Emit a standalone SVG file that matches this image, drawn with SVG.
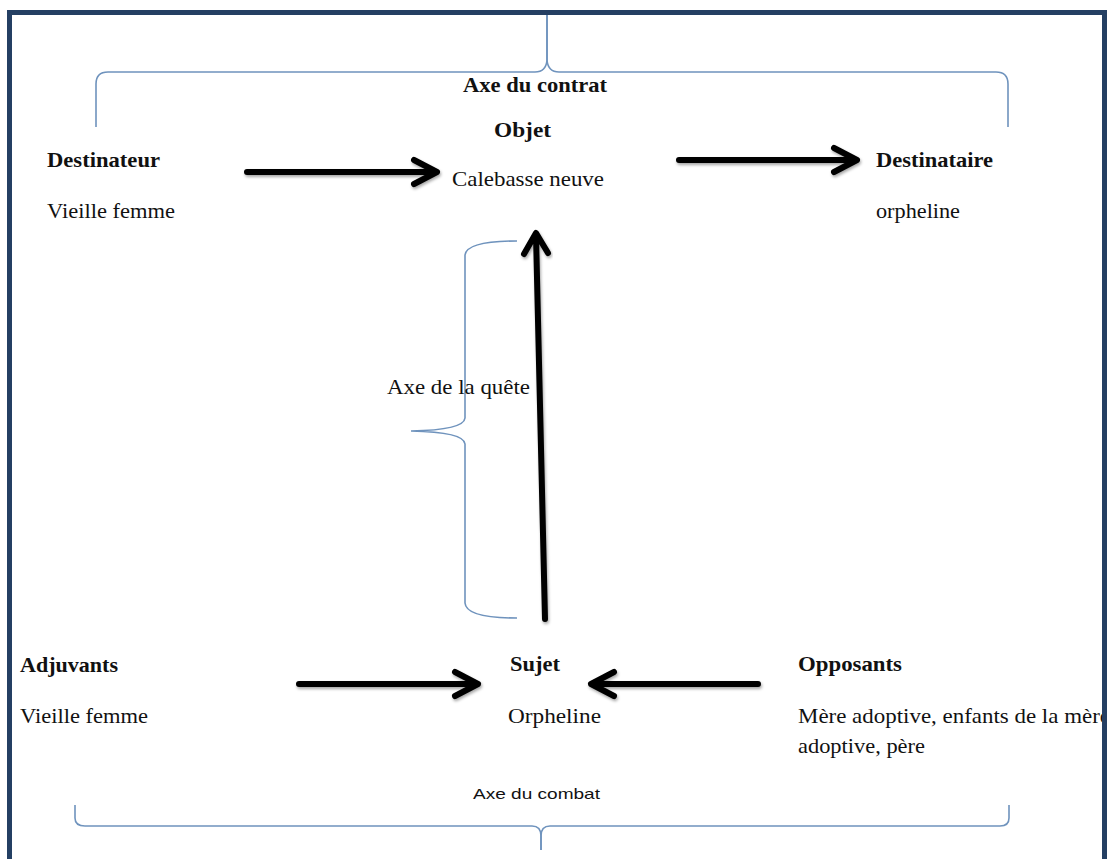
<svg xmlns="http://www.w3.org/2000/svg" width="1107" height="859" viewBox="0 0 1107 859">
<style>
.t{font-family:"Liberation Serif","Times New Roman",serif;font-size:21px;fill:#111}
.b{font-weight:bold}
.s{font-family:"Liberation Sans",Arial,sans-serif;font-size:15px;fill:#111}
.br{fill:none;stroke:#6f93bd;stroke-width:1.6}
.ar{fill:none;stroke:#000;stroke-width:6;stroke-linecap:round;stroke-linejoin:round;filter:url(#sh)}
</style>
<defs>
<filter id="sh" x="-20%" y="-50%" width="140%" height="200%">
<feDropShadow dx="1" dy="2" stdDeviation="1.5" flood-color="#000" flood-opacity="0.35"/>
</filter>
</defs>
<rect x="0" y="0" width="1107" height="859" fill="#fff"/>

<g id="braces">
<path class="br" d="M96,127 L96,84 Q96,72 108,72 L535,72 Q546,72 547,60 L547,15"/>
<path class="br" d="M547,15 L547,60 Q548,72 559,72 L996,72 Q1008,72 1008,84 L1008,127"/>
<path class="br" d="M75,805 L75,818 Q75,826 85,826 L532,826 Q541,826 541,836 L541,850"/>
<path class="br" d="M541,850 L541,836 Q541,826 550,826 L1000,826 Q1009,826 1009,818 L1009,805"/>
<path class="br" d="M517,241 Q467,241 465,255 L465,418 Q464,430 411,431 Q464,432 465,444 L465,603 Q466,618 517,618"/>
</g>

<g id="connectors">
<path class="ar" d="M247,172 L436,172 M414,160 L437,172 L414,184"/>
<path class="ar" d="M679,160 L856,160 M834,148 L857,160 L834,172"/>
<path class="ar" d="M545,619 L536,235 M524,254 L536,233 L548,253"/>
<path class="ar" d="M299,684 L477,684 M455,672 L478,684 L455,696"/>
<path class="ar" d="M758,684 L592,684 M614,672 L591,684 L614,696"/>
</g>

<g id="axe-contrat"><text class="t b" x="463" y="92" textLength="144" lengthAdjust="spacingAndGlyphs">Axe du contrat</text></g>
<g id="objet">
<text class="t b" x="494" y="137" textLength="57" lengthAdjust="spacingAndGlyphs">Objet</text>
<text class="t" x="452" y="186" textLength="152" lengthAdjust="spacingAndGlyphs">Calebasse neuve</text>
</g>
<g id="destinateur">
<text class="t b" x="47" y="167" textLength="113" lengthAdjust="spacingAndGlyphs">Destinateur</text>
<text class="t" x="47" y="218" textLength="128" lengthAdjust="spacingAndGlyphs">Vieille femme</text>
</g>
<g id="destinataire">
<text class="t b" x="876" y="167" textLength="117" lengthAdjust="spacingAndGlyphs">Destinataire</text>
<text class="t" x="876" y="218" textLength="84" lengthAdjust="spacingAndGlyphs">orpheline</text>
</g>
<g id="axe-quete"><text class="t" x="387" y="394" textLength="143" lengthAdjust="spacingAndGlyphs">Axe de la quête</text></g>
<g id="adjuvants">
<text class="t b" x="20" y="672" textLength="98" lengthAdjust="spacingAndGlyphs">Adjuvants</text>
<text class="t" x="20" y="723" textLength="128" lengthAdjust="spacingAndGlyphs">Vieille femme</text>
</g>
<g id="sujet">
<text class="t b" x="510" y="671" textLength="50" lengthAdjust="spacingAndGlyphs">Sujet</text>
<text class="t" x="508" y="723" textLength="93" lengthAdjust="spacingAndGlyphs">Orpheline</text>
</g>
<g id="opposants">
<text class="t b" x="798" y="671" textLength="104" lengthAdjust="spacingAndGlyphs">Opposants</text>
<text class="t" x="798" y="723" textLength="312" lengthAdjust="spacingAndGlyphs">Mère adoptive, enfants de la mère</text>
<text class="t" x="798" y="753" textLength="127" lengthAdjust="spacingAndGlyphs">adoptive, père</text>
</g>
<g id="axe-combat"><text class="s" x="473" y="799" textLength="127" lengthAdjust="spacingAndGlyphs">Axe du combat</text></g>

<rect id="frame" x="9.5" y="12.5" width="1095" height="900" fill="none" stroke="#243f63" stroke-width="5"/>
</svg>
